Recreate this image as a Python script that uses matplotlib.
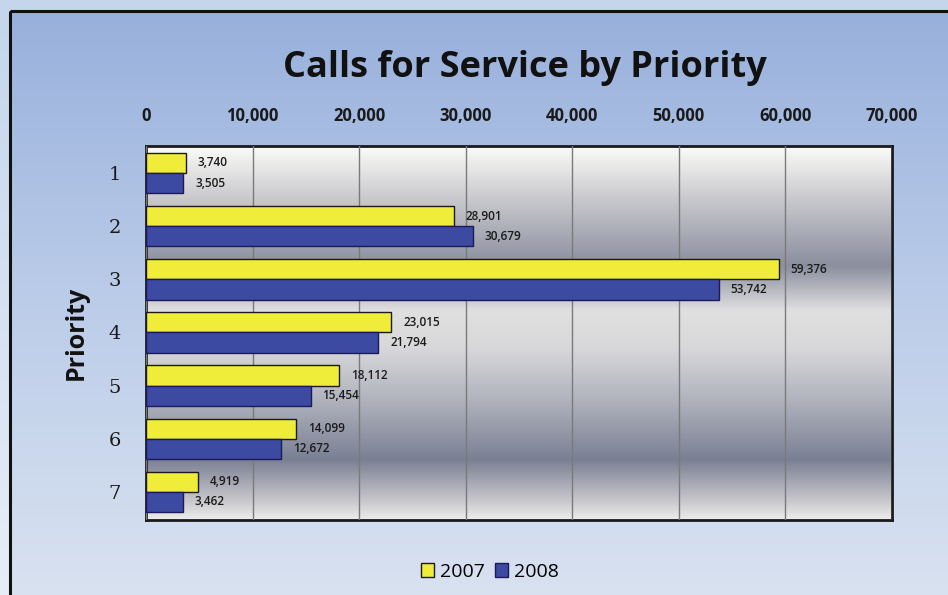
import numpy as np
import matplotlib
matplotlib.use("Agg")
import matplotlib.pyplot as plt
from matplotlib.colors import LinearSegmentedColormap
from matplotlib.patches import Rectangle

categories = ["1", "2", "3", "4", "5", "6", "7"]
values_2007 = [3740, 28901, 59376, 23015, 18112, 14099, 4919]
values_2008 = [3505, 30679, 53742, 21794, 15454, 12672, 3462]
series_names = ["2007", "2008"]
xticks = [0, 10000, 20000, 30000, 40000, 50000, 60000, 70000]

W, H = 948, 595
fig = plt.figure(figsize=(W / 100, H / 100), dpi=100)

# ---- background ----
bg = fig.add_axes([0, 0, 1, 1], zorder=-5)
bg.set_xlim(0, W)
bg.set_ylim(H, 0)
bg.axis("off")
outer = LinearSegmentedColormap.from_list("outer", ["#c4d5ec", "#e6eef8"])
bg.imshow(np.linspace(0, 1, 256).reshape(-1, 1), cmap=outer, aspect="auto",
          extent=(0, W, H, 0), zorder=0)
inner = LinearSegmentedColormap.from_list("inner", ["#98b0dc", "#bccde9", "#d9e2f0"])
bg.imshow(np.linspace(0, 1, 256).reshape(-1, 1), cmap=inner, aspect="auto",
          extent=(11, W + 5, H + 5, 12), zorder=1)
bg.add_patch(Rectangle((10, 11), W, H, fill=False, edgecolor="#111111", lw=2.2, zorder=2))

# ---- plot axes ----
ax = fig.add_axes([146 / W, 1 - 520 / H, (892 - 146) / W, (520 - 146) / H])
metal = LinearSegmentedColormap.from_list(
    "metal",
    [(0.0, "#fbfbf8"), (0.14, "#c9c9cd"), (0.32, "#8a8e9e"), (0.44, "#e0e0e0"),
     (0.54, "#d8d8da"), (0.68, "#b0b3bd"), (0.84, "#7a8094"), (0.95, "#c8c8cc"),
     (1.0, "#ececec")])
ax.imshow(np.linspace(0, 1, 256).reshape(-1, 1), cmap=metal, aspect="auto",
          extent=(0, 70000, 7.53, 0.49), zorder=0)

y = np.arange(1, len(categories) + 1)
h = 0.38
b1 = ax.barh(y - h / 2, values_2007, height=h, color="#f0ec3a", edgecolor="#1a1a1a",
             lw=1.0, label=series_names[0], zorder=3)
b2 = ax.barh(y + h / 2, values_2008, height=h, color="#3c4aa2", edgecolor="#1a1a5a",
             lw=1.0, label=series_names[1], zorder=3)
for bars, vals in ((b1, values_2007), (b2, values_2008)):
    for rect, v in zip(bars, vals):
        ax.annotate(f"{v:,}", (v, rect.get_y() + rect.get_height() / 2),
                    xytext=(8.5, 0), textcoords="offset points", va="center", ha="left",
                    fontsize=8.5, fontweight="semibold", color="#1a1a1a", family="Open Sans",
                    zorder=4)

ax.set_xlim(0, 70000)
ax.set_ylim(7.53, 0.49)
ax.set_xticks(xticks)
ax.set_xticklabels([f"{t:,}" for t in xticks], fontsize=12, fontweight="bold",
                   family="Open Sans", color="#1a1a1a")
ax.xaxis.tick_top()
ax.tick_params(axis="x", length=0, pad=15)
ax.set_yticks(y)
ax.set_yticklabels(categories, fontsize=14, family="DejaVu Serif", color="#1a1a1a")
ax.tick_params(axis="y", length=0, pad=18)
ax.grid(axis="x", color="#7a7a7a", lw=1.0, zorder=1)
ax.set_axisbelow(False)
for g in ax.get_xgridlines():
    g.set_zorder(1)
for s in ax.spines.values():
    s.set_linewidth(2)
    s.set_color("#1a1a1a")
ax.set_ylabel("Priority", fontsize=18, fontweight="bold", family="Open Sans",
              labelpad=14, color="#111111")

fig.text(525 / W, 1 - 68 / H, "Calls for Service by Priority", ha="center", va="center",
         fontsize=26, fontweight="bold", family="Open Sans", color="#111111")

leg = fig.legend(handles=[b1, b2], labels=series_names, loc="center",
                 bbox_to_anchor=(490 / W, 1 - 572 / H), ncol=2, frameon=False,
                 handlelength=0.7, handleheight=0.7, handletextpad=0.3,
                 columnspacing=0.5, prop={"family": "Open Sans", "size": 14})

fig.savefig("out.png", dpi=100)
